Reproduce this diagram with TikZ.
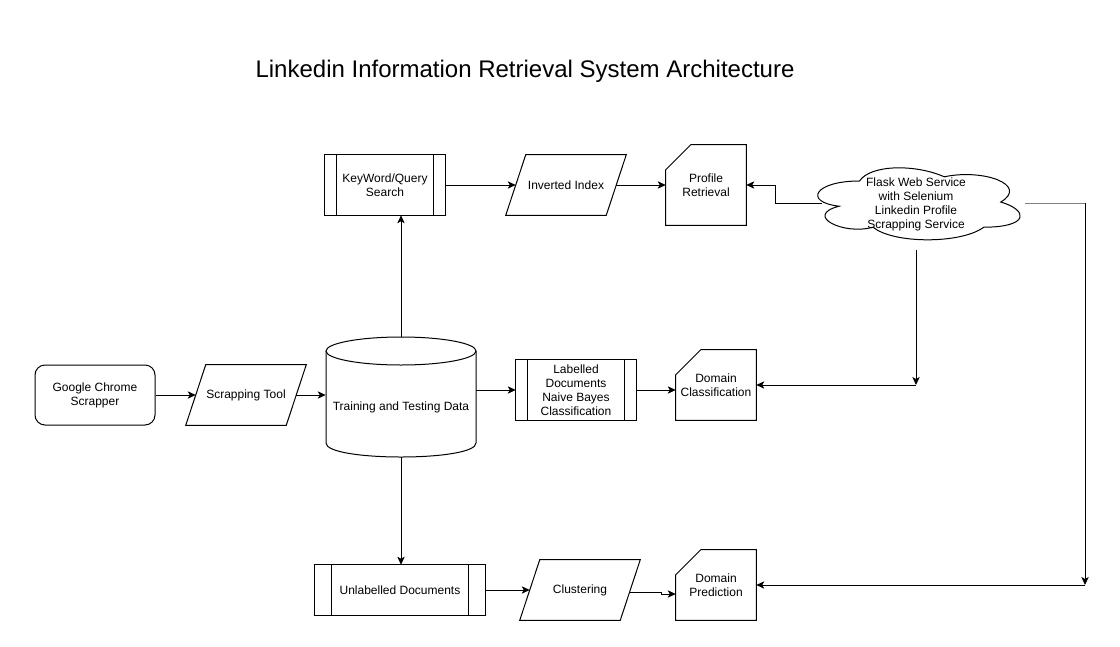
\documentclass[tikz,border=0pt]{standalone}
\usepackage{fontspec}
\setmainfont{Liberation Sans}
\usetikzlibrary{arrows.meta,calc}
\definecolor{linegray}{HTML}{808080}
\newcommand{\drawpar}[1]{\draw[ln] ([xshift=15pt]#1.north west) -- (#1.north east) -- ([xshift=-15pt]#1.south east) -- (#1.south west) -- cycle;}
\newcommand{\drawcard}[1]{\draw[ln] ([xshift=18.75pt]#1.north west) -- (#1.north east) -- (#1.south east) -- (#1.south west) -- ([yshift=-18.75pt]#1.north west) -- cycle;}
\newcommand{\drawproc}[2]{\draw[ln] (#1.north west) rectangle (#1.south east) ([xshift=#2]#1.north west) -- ([xshift=#2]#1.south west) ([xshift=-#2]#1.north east) -- ([xshift=-#2]#1.south east);}
\begin{document}
\begin{tikzpicture}[x=0.75pt,y=-0.75pt,
  every node/.style={font=\fontsize{9}{10.5}\selectfont, align=center, inner sep=0pt},
  w/.style={minimum width=#1*0.75pt},
  h/.style={minimum height=#1*0.75pt},
  ln/.style={line width=0.75pt},
  arr/.style={ln, -{Stealth[length=6pt,width=5.5pt,inset=1.5pt]}},
  rbox/.style={draw, ln, rounded corners=7.5pt},
  ttl/.style={font=\fontsize{18}{21.6}\selectfont}]
\useasboundingbox (0,0) rectangle (1120,646);
\fill[white] (0,0) rectangle (1120,646);

\node[ttl] (title) at (525,71) {Linkedin Information Retrieval System Architecture};

% nodes
\node[rbox, w=120, h=60] (gc) at (95,395) {Google Chrome\\Scrapper};
\node[w=120, h=60] (st) at (246,395) {Scrapping Tool};
\drawpar{st}
\node[w=150, h=120] (db) at (401,397) {};
\draw[ln] (326,351) -- (326,443) .. controls (326,461.67) and (476,461.67) .. (476,443) -- (476,351);
\draw[ln] (401,351) ellipse [x radius=75, y radius=14];
\node (dbtext) at (401,407) {Training and Testing Data};

\node[w=120, h=60] (kw) at (385,185) {KeyWord/Query\\Search};
\drawproc{kw}{9pt}
\node[w=120, h=60] (ii) at (566,185) {Inverted Index};
\drawpar{ii}
\node[w=80, h=80] (pr) at (706,185) {Profile\\Retrieval};
\drawcard{pr}

% cloud (draw.io cloud outline)
\node[w=202, h=72] (fl) at (916,204) {Flask Web Service\\with Selenium\\Linkedin Profile\\Scrapping Service};
\begin{scope}[shift={(803,160)}, x=169.5pt, y=-63pt]
\draw[ln] (0.25,0.25) .. controls (0.05,0.25) and (0,0.5) .. (0.16,0.55)
  .. controls (0,0.66) and (0.18,0.9) .. (0.31,0.8)
  .. controls (0.4,1) and (0.7,1) .. (0.8,0.8)
  .. controls (1,0.8) and (1,0.6) .. (0.875,0.5)
  .. controls (1,0.3) and (0.8,0.1) .. (0.625,0.2)
  .. controls (0.5,0.05) and (0.3,0.05) .. (0.25,0.25) -- cycle;
\end{scope}

\node[w=120, h=60] (lb) at (576,390) {Labelled\\Documents\\Naive Bayes\\Classification};
\drawproc{lb}{9pt}
\node[w=80, h=70] (dc) at (716,385) {Domain\\Classification};
\drawcard{dc}

\node[w=170, h=50] (ud) at (400,590) {Unlabelled Documents};
\drawproc{ud}{12.75pt}
\node[w=120, h=60] (cl) at (580,590) {Clustering};
\drawpar{cl}
\node[w=80, h=70] (dp) at (716,585) {Domain\\Prediction};
\drawcard{dp}

\coordinate (j1) at (916,385);
\coordinate (g1) at (1025,203);
\coordinate (g2) at (1085,203);
\coordinate (j2) at (1085,585);

% connectors
\draw[arr] (gc.east) -- ([xshift=7.5pt]st.west);
\draw[arr] ([xshift=-7.5pt]st.east) -- (st.east -| db.west);
\draw[arr] (lb.west -| db.east) -- (lb.west);
\draw[arr] (lb.east) -- (lb.east -| dc.west);
\draw[arr] (db.north) -- (db.north |- kw.south);
\draw[arr] (db.south) -- (db.south |- ud.north);
\draw[arr] (kw.east) -- ([xshift=7.5pt]ii.west);
\draw[arr] ([xshift=-7.5pt]ii.east) -- (pr.west);
\draw[arr] (ud.east) -- ([xshift=7.5pt]cl.west);
\draw[arr] ([xshift=5.25pt,yshift=0.75pt]fl.west) -| ([xshift=21.75pt]pr.east) -- (pr.east);
\draw[arr] ([yshift=-7.5pt]fl.south) -- (j1);
\draw[arr] (j1) -- (j1 -| dc.east);
\draw[ln, linegray] (g1) -- (g2);
\draw[arr] (g2) -- (j2);
\draw[arr] (j2) -- (j2 -| dp.east);
\draw[arr] ([xshift=-7.5pt,yshift=-1.5pt]cl.east) -- ++(31,0) -- ++(0,2) -- ([yshift=-6.75pt]dp.west);
\end{tikzpicture}
\end{document}
